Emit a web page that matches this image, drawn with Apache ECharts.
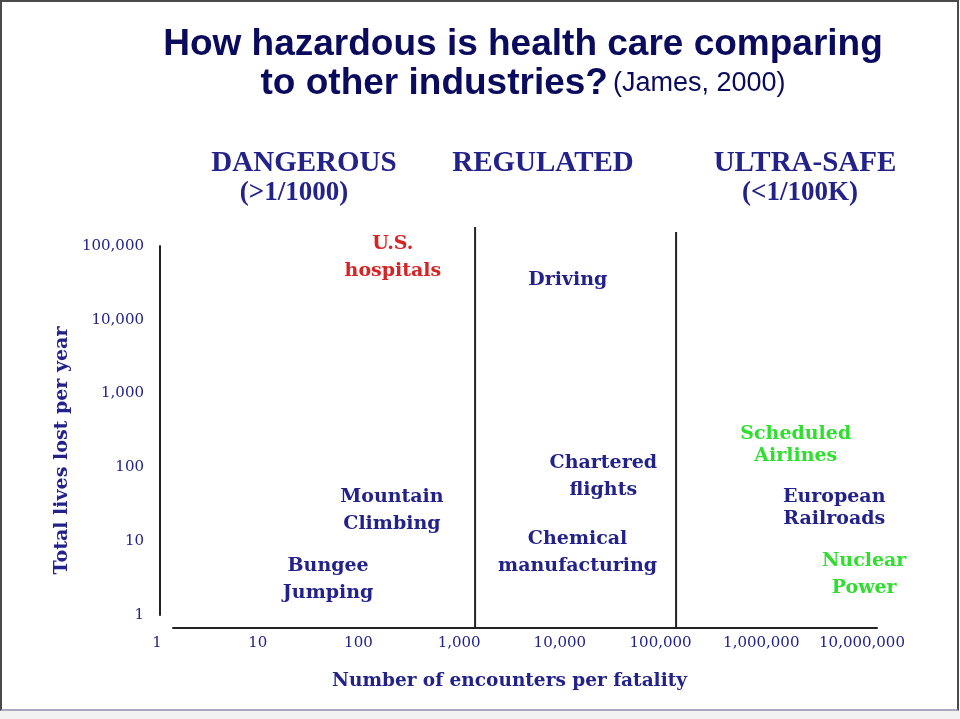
<!DOCTYPE html>
<html><head><meta charset="utf-8">
<script src="https://cdn.jsdelivr.net/npm/echarts@6/dist/echarts.min.js"></script>
<style>
html,body{margin:0;padding:0;background:#fff;}
#chart{position:absolute;left:0;top:0;width:960px;height:719px;}
#edge{position:absolute;left:0;top:0;width:959px;height:711px;box-sizing:border-box;border-left:2px solid #4a4a4a;border-top:2px solid #4a4a4a;border-right:2px solid #4a4a4a;border-bottom:2px solid #a9a9c2;pointer-events:none;}
#foot{position:absolute;left:0;top:711px;width:960px;height:8px;background:#f2f2f2;}
</style></head>
<body>
<div id="chart"></div>
<div id="edge"></div>
<div id="foot"></div>
<script>
// ---- data ----
const xTickValues = [1, 10, 100, 1000, 10000, 100000, 1000000, 10000000];
const yTickValues = [1, 10, 100, 1000, 10000, 100000];

const healthNames = ['U.S.\nhospitals'];
const healthX = [220];
const healthY = [70000];

const otherNames = ['Driving', 'Mountain\nClimbing', 'Bungee\nJumping', 'Chartered\nflights', 'Chemical\nmanufacturing', 'European\nRailroads'];
const otherX = [12000, 215, 50, 27000, 15000, 5300000];
const otherY = [35000, 26, 3, 75, 7, 28];

const ultraNames = ['Scheduled\nAirlines', 'Nuclear\nPower'];
const ultraX = [2200000, 10500000];
const ultraY = [200, 3.5];

const zoneNames = ['DANGEROUS', 'REGULATED', 'ULTRA-SAFE'];
const zoneRanges = ['(>1/1000)', '', '(<1/100K)'];
const dividerX = [1440, 142600];
const dividerTop = [1, 0.9875];

const titleLine1 = 'How hazardous is health care comparing';
const titleLine2 = 'to other industries?';
const titleSource = '(James, 2000)';
const xAxisName = 'Number of encounters per fatality';
const yAxisName = 'Total lives lost per year';

// ---- styles ----
const NAVY = '#22228a';
const TITLE = '#0b0b5e';
const RED = '#d42424';
const GREEN = '#30de30';
const LABEL_FONT = '"DejaVu Serif", serif';

function fmt(v) {
  return Math.round(v).toLocaleString('en-US');
}
function isTick(list, v) {
  return list.some(t => Math.abs(Math.log10(t) - Math.log10(v)) < 1e-6);
}
function points(names, xs, ys, tight) {
  return names.map((n, i) => {
    const item = { name: n, value: [xs[i], ys[i]] };
    if (tight && tight[i]) item.label = { lineHeight: 22 };
    return item;
  });
}
function labelSeries(name, data, color) {
  return {
    name: name, type: 'scatter', xAxisIndex: 0, yAxisIndex: 0,
    symbol: 'circle', symbolSize: 1, itemStyle: { color: 'rgba(0,0,0,0)' },
    clip: false, silent: true,
    label: {
      show: true, position: 'inside', formatter: '{b}',
      color: color, fontFamily: LABEL_FONT, fontWeight: 'bold',
      fontSize: 19, lineHeight: 27, align: 'center', opacity: 1
    },
    data: data
  };
}

const chart = echarts.init(document.getElementById('chart'), null, { renderer: 'canvas' });

const zoneCenters = [304, 543, 805];
const rangeCenters = [294, 0, 800];
const graphics = [];
zoneNames.forEach((z, i) => {
  graphics.push({ type: 'text', x: zoneCenters[i], y: 164, silent: true,
    style: { text: z, font: 'bold 29px "Liberation Serif", serif', fill: NAVY, align: 'center', verticalAlign: 'middle' } });
  if (zoneRanges[i]) {
    graphics.push({ type: 'text', x: rangeCenters[i], y: 193, silent: true,
      style: { text: zoneRanges[i], font: 'bold 27px "Liberation Serif", serif', fill: NAVY, align: 'center', verticalAlign: 'middle' } });
  }
});

const option = {
  animation: false,
  backgroundColor: '#ffffff',
  title: {
    text: '{a|' + titleLine1 + '}\n{a|' + titleLine2 + '} {b|' + titleSource + '}',
    left: 518, top: 20, textAlign: 'center',
    textStyle: {
      rich: {
        a: { fontFamily: '"Liberation Sans", Arial, sans-serif', fontWeight: 'bold', fontSize: 37, color: TITLE, lineHeight: 39 },
        b: { fontFamily: '"Liberation Sans", Arial, sans-serif', fontWeight: 'normal', fontSize: 27, color: TITLE, lineHeight: 39 }
      }
    }
  },
  graphic: graphics,
  grid: [
    { left: 157, right: 98, top: 246, bottom: 104 },
    { left: 157, right: 98, top: 227, bottom: 91 },
    { left: 173, right: 83, top: 600, bottom: 91 }
  ],
  xAxis: [
    {
      type: 'log', logBase: 10, min: 1, max: 10000000, gridIndex: 0,
      axisLine: { show: false }, axisTick: { show: false }, splitLine: { show: false },
      axisLabel: {
        margin: 21, color: NAVY, fontFamily: LABEL_FONT, fontSize: 15,
        formatter: v => isTick(xTickValues, v) ? fmt(v) : ''
      },
      name: xAxisName, nameLocation: 'middle', nameGap: 57,
      nameTextStyle: { color: NAVY, fontFamily: LABEL_FONT, fontWeight: 'bold', fontSize: 18.5 }
    },
    {
      type: 'log', logBase: 10, min: 1, max: 10000000, gridIndex: 1, show: false
    },
    {
      type: 'value', min: 0, max: 1, gridIndex: 2,
      axisLine: { show: true, lineStyle: { color: '#222', width: 2 } },
      axisTick: { show: false }, axisLabel: { show: false }, splitLine: { show: false }
    }
  ],
  yAxis: [
    {
      type: 'log', logBase: 10, min: 1, max: 100000, gridIndex: 0, offset: -3,
      axisLine: { show: true, lineStyle: { color: '#222', width: 2 } },
      axisTick: { show: false }, splitLine: { show: false },
      axisLabel: {
        margin: 16, color: NAVY, fontFamily: LABEL_FONT, fontSize: 15,
        formatter: v => isTick(yTickValues, v) ? fmt(v) : ''
      },
      name: yAxisName, nameLocation: 'middle', nameGap: 78, nameRotate: 90,
      nameTextStyle: { color: NAVY, fontFamily: LABEL_FONT, fontWeight: 'bold', fontSize: 19, padding: [0, 40, 0, 0] }
    },
    { type: 'value', min: 0, max: 1, gridIndex: 1, show: false },
    { type: 'value', min: 0, max: 1, gridIndex: 2, show: false }
  ],
  series: [
    labelSeries('Health care', points(healthNames, healthX, healthY), RED),
    labelSeries('Other industries', points(otherNames, otherX, otherY, [false, false, false, false, false, true]), NAVY),
    labelSeries('Ultra-safe industries', points(ultraNames, ultraX, ultraY, [true, false]), GREEN)
  ].concat(dividerX.map((dx, i) => ({
    name: 'divider ' + (i + 1), type: 'line', xAxisIndex: 1, yAxisIndex: 1,
    symbol: 'none', silent: true,
    lineStyle: { color: '#222', width: 2 },
    data: [[dx, 0], [dx, dividerTop[i]]]
  })))
};
chart.setOption(option);
</script>
</body></html>
